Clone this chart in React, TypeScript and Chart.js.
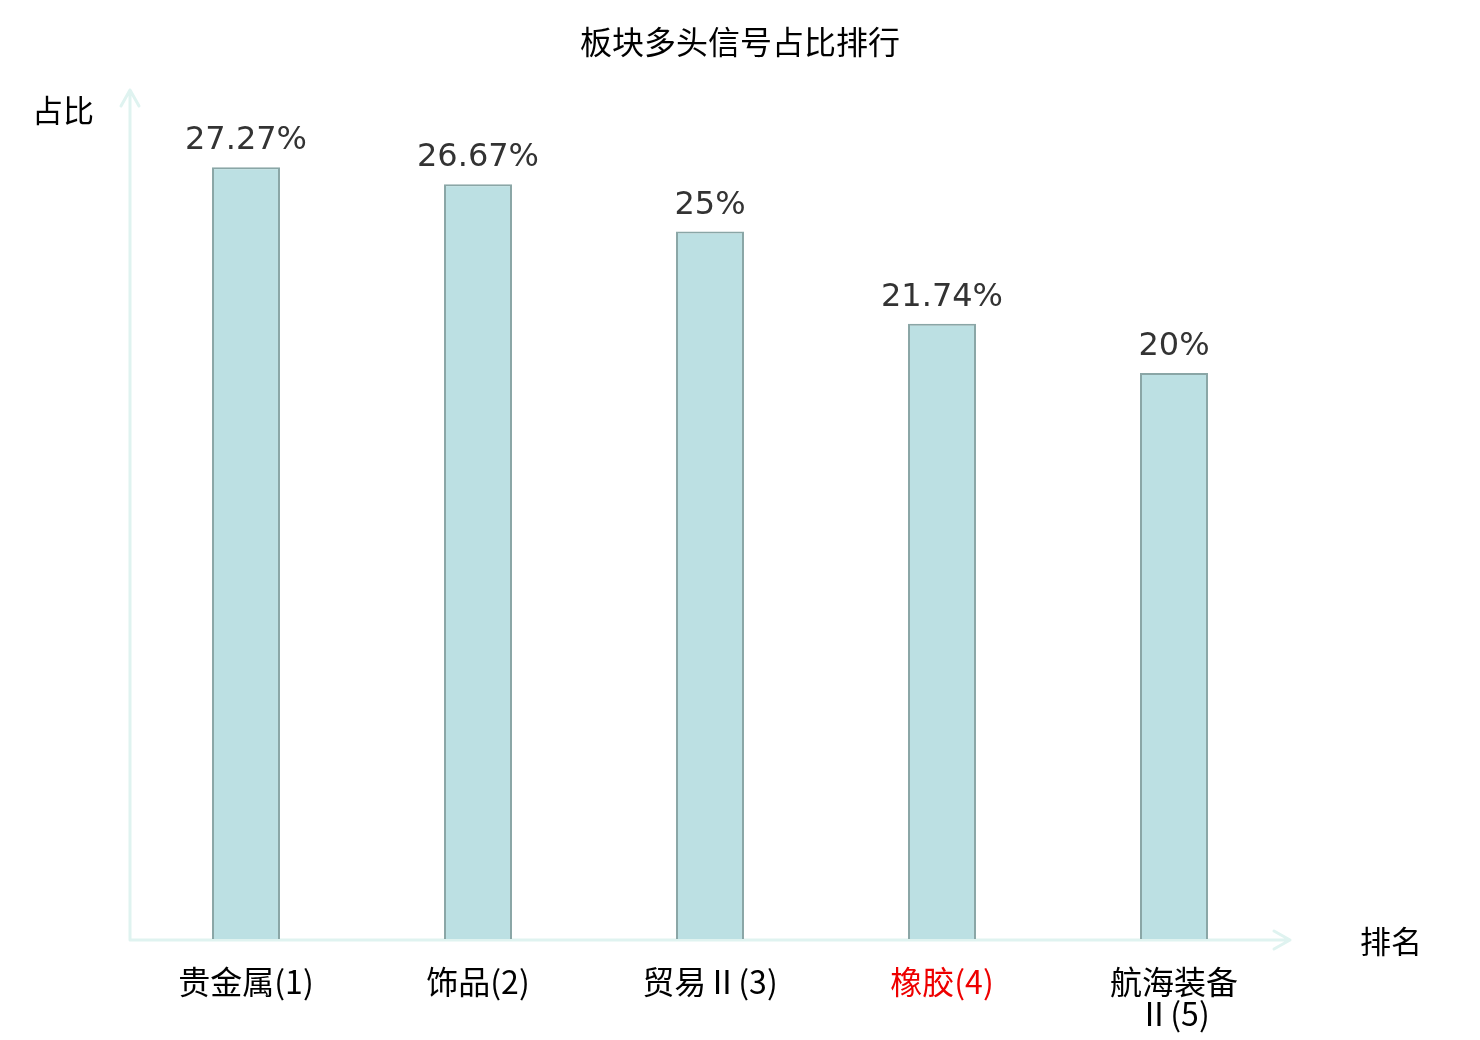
import { useEffect, useRef } from "react"
import { Chart, registerables, Plugin } from "chart.js"

Chart.register(...registerables)

const categories: (string | string[])[] = ["贵金属(1)", "饰品(2)", "贸易Ⅱ(3)", "橡胶(4)", ["航海装备", "Ⅱ(5)"]]
const values = [27.27, 26.67, 25, 21.74, 20]
const valueLabels = ["27.27%", "26.67%", "25%", "21.74%", "20%"]
const highlightIndex = 3

const AXIS_COLOR = "#dff3f0"
const CJK = "'Noto Sans CJK SC', 'Noto Sans', sans-serif"
const TICK_FONT = "'DejaVu Sans ExtraLight', 'Noto Sans CJK SC', sans-serif"

// axes with arrows, axis names, title and value labels
const decorations: Plugin<"bar"> = {
  id: "decorations",
  beforeDatasetsDraw(chart) {
    const { ctx, chartArea } = chart
    const { left, right, top, bottom } = chartArea
    ctx.save()
    ctx.strokeStyle = AXIS_COLOR
    ctx.lineWidth = 3
    ctx.lineCap = "round"
    ctx.lineJoin = "round"
    ctx.beginPath()
    ctx.moveTo(left, bottom + 1)
    ctx.lineTo(left, top)
    ctx.moveTo(left - 9, top + 16)
    ctx.lineTo(left, top)
    ctx.lineTo(left + 9, top + 16)
    ctx.moveTo(left, bottom + 1)
    ctx.lineTo(right, bottom + 1)
    ctx.moveTo(right - 16, bottom - 8)
    ctx.lineTo(right, bottom + 1)
    ctx.lineTo(right - 16, bottom + 10)
    ctx.stroke()
    ctx.restore()
  },
  afterDatasetsDraw(chart) {
    const { ctx, chartArea } = chart
    ctx.save()
    ctx.fillStyle = "#000"
    ctx.textAlign = "center"
    ctx.textBaseline = "middle"
    ctx.font = `32px ${CJK}`
    ctx.fillText("板块多头信号占比排行", chart.width / 2, 42)
    ctx.font = `31px ${CJK}`
    ctx.fillText("占比", chartArea.left - 67, chartArea.top + 20)
    ctx.fillText("排名", chartArea.right + 101, chartArea.bottom + 2)

    ctx.fillStyle = "#333"
    ctx.textBaseline = "alphabetic"
    ctx.font = "32px 'DejaVu Sans', sans-serif"
    const meta = chart.getDatasetMeta(0)
    meta.data.forEach((bar, i) => {
      ctx.fillText(valueLabels[i], bar.x, bar.y - 18)
    })
    ctx.restore()
  },
}

export default function App() {
  const chartRef = useRef<HTMLCanvasElement>(null)
  const chartInstance = useRef<Chart<"bar"> | null>(null)

  useEffect(() => {
    document.body.style.margin = "0"
    if (!chartRef.current) return
    if (chartInstance.current) chartInstance.current.destroy()

    chartInstance.current = new Chart(chartRef.current, {
      type: "bar",
      data: {
        labels: categories,
        datasets: [
          {
            data: values,
            backgroundColor: "#bce0e3",
            borderColor: "#8aa6a6",
            borderWidth: 2,
            barPercentage: 0.293,
            categoryPercentage: 1,
          },
        ],
      },
      options: {
        responsive: true,
        maintainAspectRatio: false,
        animation: false,
        layout: {
          padding: { left: 130, right: 190, top: 90, bottom: 0 },
        },
        plugins: {
          legend: { display: false },
          tooltip: { enabled: false },
        },
        scales: {
          x: {
            grid: { display: false, drawTicks: false },
            border: { display: false },
            afterFit: (scale) => {
              scale.height = 101
            },
            ticks: {
              padding: 27,
              font: { family: TICK_FONT, size: 32, lineHeight: "32px" },
              color: (c) => (c.index === highlightIndex ? "#ee0000" : "#000"),
            },
          },
          y: {
            display: false,
            min: 0,
            max: 30,
          },
        },
      },
      plugins: [decorations],
    })

    return () => {
      if (chartInstance.current) {
        chartInstance.current.destroy()
        chartInstance.current = null
      }
    }
  }, [])

  return (
    <div style={{ width: 1480, height: 1040, position: "relative" }}>
      <canvas ref={chartRef} />
    </div>
  )
}
